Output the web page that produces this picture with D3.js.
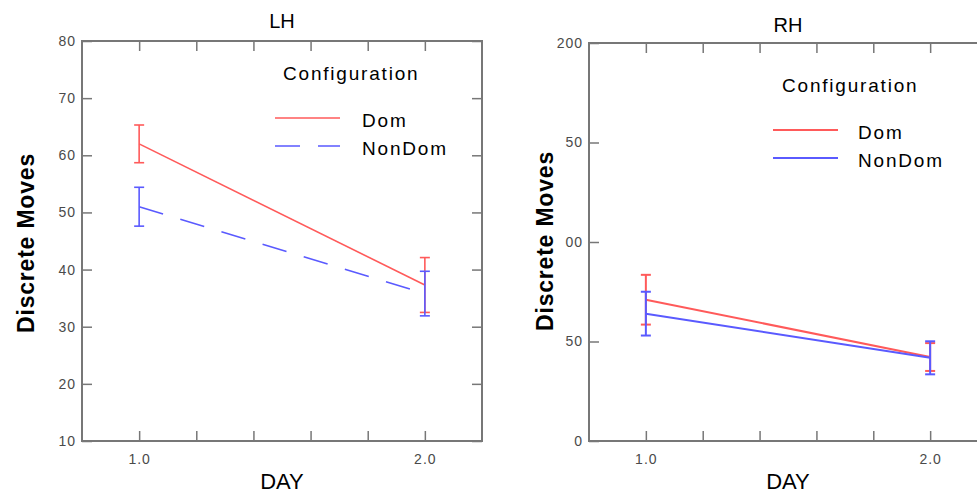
<!DOCTYPE html>
<html>
<head>
<meta charset="utf-8">
<script src="https://cdn.jsdelivr.net/npm/d3@7"></script>
<style>
  body { margin: 0; background: #fff; }
  text { font-family: "Liberation Sans", Arial, sans-serif; }
</style>
</head>
<body>
<div id="chart"></div>
<script>
// shared x axis
const days = [1.0, 2.0];
const xTicks = [1.0, 1.2, 1.4, 1.6, 1.8, 2.0];
const xTickLabels = ["1.0", "", "", "", "", "2.0"];
const groups = ["Dom", "NonDom"];

// LH panel
const lhTicks = [10, 20, 30, 40, 50, 60, 70, 80];
const lhTickLabels = ["10", "20", "30", "40", "50", "60", "70", "80"];
const lhDom = [62.0, 37.3];
const lhDomErr = [3.3, 4.8];
const lhNonDom = [51.0, 35.8];
const lhNonDomErr = [3.4, 3.9];

// RH panel (labels are clipped in the original)
const rhTicks = [0, 50, 100, 150, 200];
const rhTickLabels = ["0", "50", "00", "50", "200"];
const rhDom = [71.0, 42.2];
const rhDomErr = [12.5, 7.0];
const rhNonDom = [64.0, 41.8];
const rhNonDomErr = [11.0, 8.3];

const width = 977, height = 493;
const bottom = 441;
const red = "#ff5a5a", blue = "#5a5aff";

const svg = d3.select("#chart")
  .append("svg")
  .attr("width", width)
  .attr("height", height);

function styleAxis(a) {
  a.select(".domain").remove();
  a.attr("font-family", null).attr("font-size", null);
  a.selectAll(".tick line").attr("stroke", "#777").attr("stroke-width", 1.5);
  a.selectAll(".tick text")
    .attr("fill", "#4a4a4a")
    .style("font-size", "14px")
    .style("letter-spacing", "1px");
}

function drawPanel(p) {
  const x = d3.scaleLinear().domain([0.8, 2.2]).range([p.left, p.right]);
  const y = d3.scaleLinear().domain(p.yDomain).range([bottom, p.top]);
  const g = svg.append("g");

  // inward ticks on all four sides
  g.append("g")
    .attr("transform", `translate(${p.left},0)`)
    .call(d3.axisLeft(y).tickValues(p.yTicks).tickFormat((d, i) => p.yLabels[i])
      .tickSizeInner(-10).tickSizeOuter(0).tickPadding(6))
    .call(styleAxis);
  g.append("g")
    .attr("transform", `translate(${p.right},0)`)
    .call(d3.axisRight(y).tickValues(p.yTicks).tickFormat("")
      .tickSizeInner(-10).tickSizeOuter(0))
    .call(styleAxis);
  g.append("g")
    .attr("transform", `translate(0,${bottom})`)
    .call(d3.axisBottom(x).tickValues(xTicks).tickFormat((d, i) => xTickLabels[i])
      .tickSizeInner(-10).tickSizeOuter(0).tickPadding(13))
    .call(styleAxis);
  g.append("g")
    .attr("transform", `translate(0,${p.top})`)
    .call(d3.axisTop(x).tickValues(xTicks).tickFormat("")
      .tickSizeInner(-10).tickSizeOuter(0))
    .call(styleAxis);

  g.append("rect")
    .attr("x", p.left)
    .attr("y", p.top)
    .attr("width", p.right - p.left)
    .attr("height", bottom - p.top)
    .attr("fill", "none")
    .attr("stroke", "#777")
    .attr("stroke-width", 2);

  const line = d3.line().x(d => x(d.day)).y(d => y(d.v));

  p.series.forEach(s => {
    const pts = days.map((d, i) => ({day: d, v: s.values[i], e: s.err[i]}));
    g.append("path")
      .datum(pts)
      .attr("d", line)
      .attr("fill", "none")
      .attr("stroke", s.color)
      .attr("stroke-width", p.lineWidth)
      .attr("stroke-dasharray", s.dash);

    pts.forEach(d => {
      const cx = x(d.day);
      g.append("line")
        .attr("x1", cx).attr("x2", cx)
        .attr("y1", y(d.v - d.e)).attr("y2", y(d.v + d.e))
        .attr("stroke", s.color).attr("stroke-width", p.lineWidth);
      [d.v - d.e, d.v + d.e].forEach(v => {
        g.append("line")
          .attr("x1", cx - 5).attr("x2", cx + 5)
          .attr("y1", y(v)).attr("y2", y(v))
          .attr("stroke", s.color).attr("stroke-width", p.lineWidth);
      });
    });
  });

  // titles
  g.append("text")
    .attr("x", (p.left + p.right) / 2)
    .attr("y", p.titleY)
    .attr("text-anchor", "middle")
    .style("font-size", "20px")
    .text(p.title);

  g.append("text")
    .attr("x", (p.left + p.right) / 2)
    .attr("y", 489)
    .attr("text-anchor", "middle")
    .style("font-size", "22px")
    .text("DAY");

  g.append("text")
    .attr("transform", `translate(${p.yLabelX},${p.yLabelY}) rotate(-90)`)
    .attr("text-anchor", "middle")
    .style("font-size", "23px")
    .style("font-weight", "bold")
    .style("letter-spacing", "0.8px")
    .text("Discrete Moves");

  // legend
  const lg = g.append("g").attr("transform", `translate(${p.legend.x},${p.legend.y})`);
  lg.append("text")
    .attr("x", 0).attr("y", 0)
    .style("font-size", "19px")
    .style("letter-spacing", "1.8px")
    .text("Configuration");
  p.series.forEach((s, i) => {
    const ly = p.legend.rowY + i * p.legend.rowGap;
    lg.append("line")
      .attr("x1", p.legend.lineX).attr("x2", p.legend.lineX + 65)
      .attr("y1", ly).attr("y2", ly)
      .attr("stroke", s.color)
      .attr("stroke-width", p.lineWidth)
      .attr("stroke-dasharray", s.dash);
    lg.append("text")
      .attr("x", p.legend.textX)
      .attr("y", ly + 9)
      .style("font-size", "19px")
      .style("letter-spacing", "1.8px")
      .text(s.name);
  });
}

drawPanel({
  left: 82, right: 482, top: 41,
  yDomain: [10, 80], yTicks: lhTicks, yLabels: lhTickLabels,
  title: "LH", titleY: 28,
  yLabelX: 34, yLabelY: 243,
  lineWidth: 1.6,
  series: [
    {name: groups[0], values: lhDom, err: lhDomErr, color: red, dash: null},
    {name: groups[1], values: lhNonDom, err: lhNonDomErr, color: blue, dash: "25,18"}
  ],
  legend: {x: 283, y: 80, rowY: 38, rowGap: 28, lineX: -8, textX: 79}
});

drawPanel({
  left: 589, right: 987, top: 43,
  yDomain: [0, 200], yTicks: rhTicks, yLabels: rhTickLabels,
  title: "RH", titleY: 32,
  yLabelX: 553, yLabelY: 241,
  lineWidth: 2,
  series: [
    {name: groups[0], values: rhDom, err: rhDomErr, color: red, dash: null},
    {name: groups[1], values: rhNonDom, err: rhNonDomErr, color: blue, dash: null}
  ],
  legend: {x: 782, y: 92, rowY: 38, rowGap: 28, lineX: -9, textX: 76}
});
</script>
</body>
</html>
